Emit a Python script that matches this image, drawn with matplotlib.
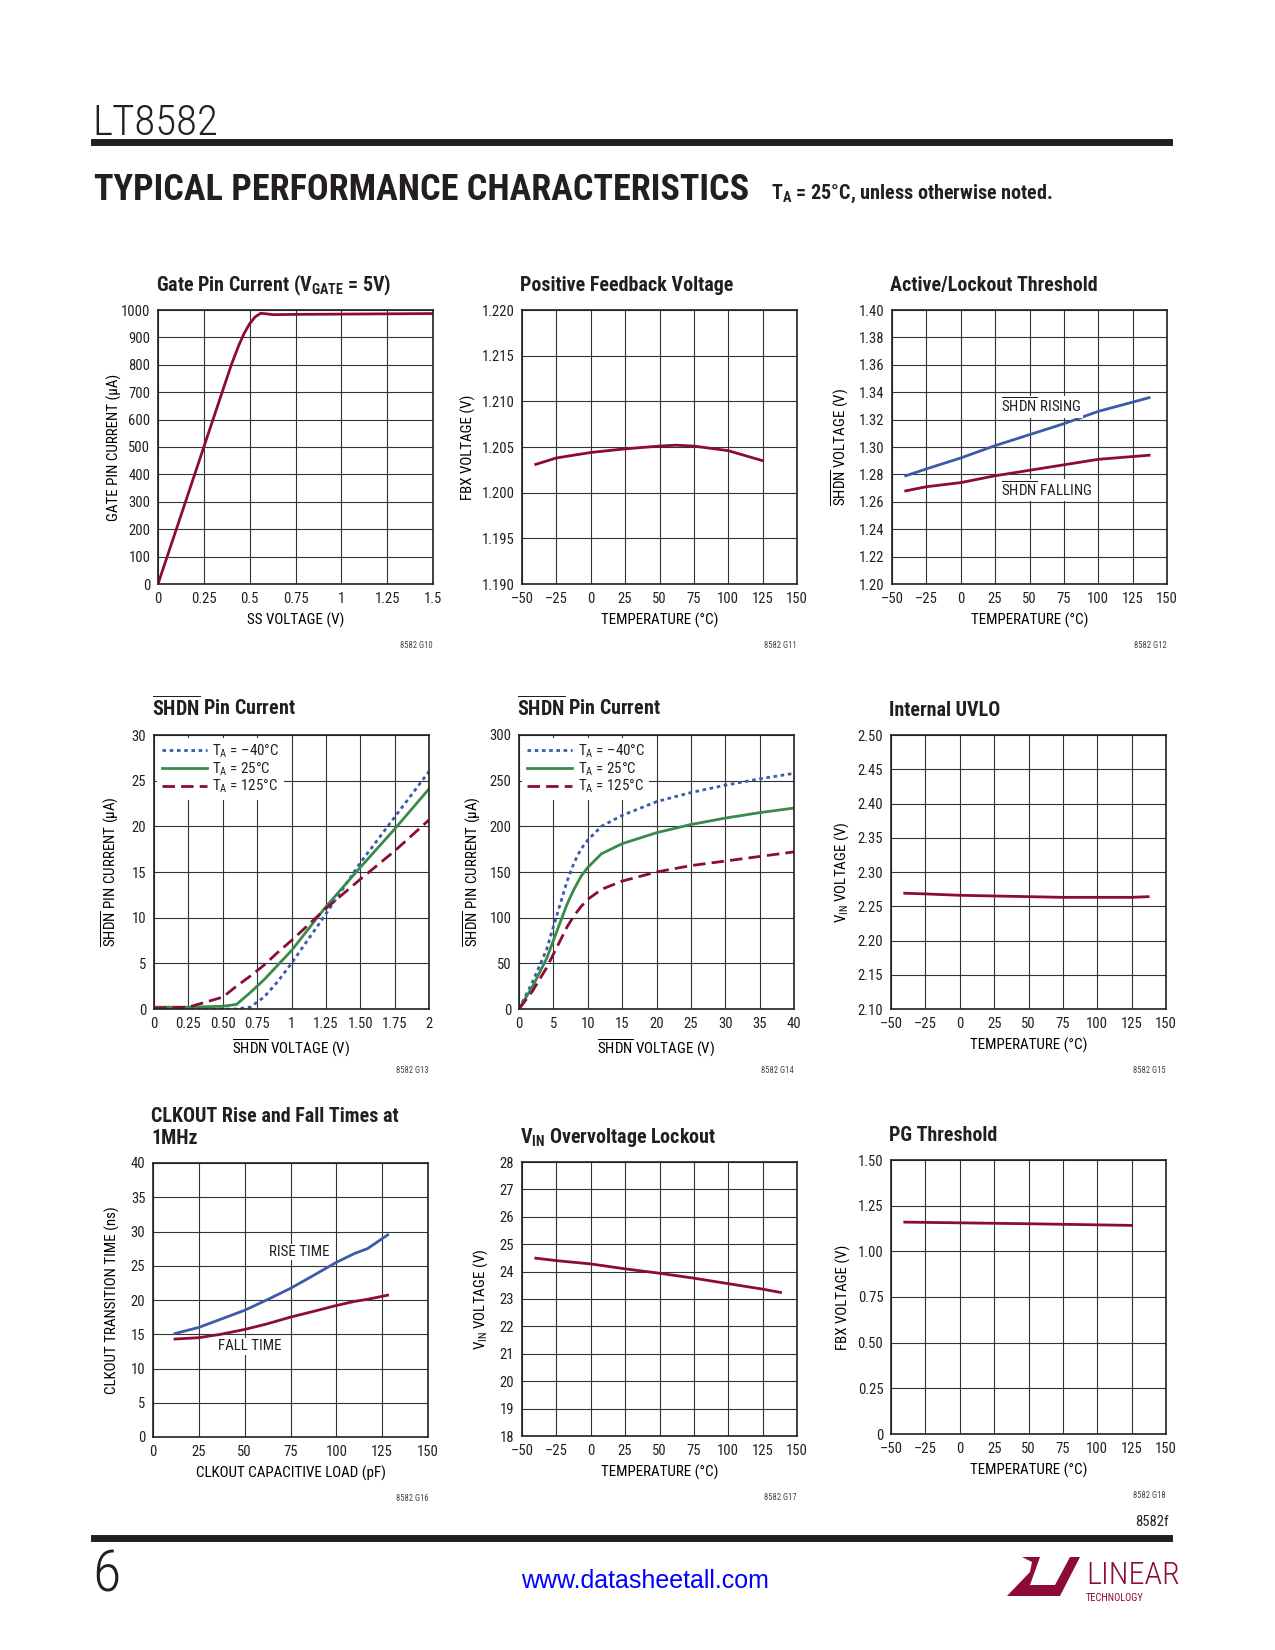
import matplotlib
matplotlib.use('Agg')
import matplotlib.pyplot as plt
from matplotlib.patches import Polygon
import numpy as np

FONTS = ['Roboto Condensed', 'Liberation Sans', 'DejaVu Sans']
plt.rcParams['font.family'] = FONTS
plt.rcParams['mathtext.fontset'] = 'custom'
plt.rcParams['mathtext.rm'] = 'Roboto Condensed'
plt.rcParams['mathtext.bf'] = 'Roboto Condensed:bold'
plt.rcParams['mathtext.it'] = 'Roboto Condensed'
plt.rcParams['text.color'] = '#231f20'

INK = '#231f20'
RED = '#8c0b37'
BLUE = '#3c5aa8'
GREEN = '#3a8a4c'

# ---- data ----
gate_ss = [0, 0.05, 0.1, 0.15, 0.2, 0.25, 0.3, 0.35, 0.4, 0.44, 0.47, 0.5, 0.53, 0.56, 0.59, 0.63, 0.75, 1.0, 1.25, 1.5]
gate_i = [0, 100, 200, 300, 400, 500, 600, 700, 800, 870, 915, 950, 975, 988, 986, 983, 984, 985, 986, 987]

fb_t = [-40, -25, 0, 25, 50, 62, 75, 100, 125]
fb_v = [1.2031, 1.2038, 1.2044, 1.2048, 1.2051, 1.2052, 1.2051, 1.2046, 1.2035]

lock_t = [-40, -25, 0, 25, 50, 75, 100, 137]
lock_rise = [1.279, 1.284, 1.292, 1.301, 1.309, 1.317, 1.326, 1.336]
lock_fall = [1.268, 1.271, 1.274, 1.279, 1.283, 1.287, 1.291, 1.294]

shdn_v_lo = [0, 0.25, 0.5, 0.6, 0.7, 0.8, 0.9, 1.0, 1.25, 1.5, 1.75, 2.0]
shdn_i_lo_m40 = [0, 0, 0, 0, 0.2, 1.3, 3.0, 5.0, 10.4, 16.0, 21.0, 26.0]
shdn_i_lo_25 = [0.2, 0.2, 0.3, 0.5, 1.8, 3.2, 4.8, 6.4, 11.2, 15.5, 19.7, 24.1]
shdn_i_lo_125 = [0.1, 0.2, 1.3, 2.5, 3.6, 4.8, 6.2, 7.5, 11.0, 14.2, 17.3, 20.7]

shdn_v_hi = [0, 2, 4, 5, 7, 8, 9, 10, 12, 15, 20, 25, 30, 35, 40]
shdn_i_hi_m40 = [0, 30, 65, 90, 140, 160, 175, 185, 200, 212, 227, 237, 245, 252, 258]
shdn_i_hi_25 = [0, 25, 55, 75, 115, 131, 145, 155, 170, 181, 193, 202, 209, 215, 220]
shdn_i_hi_125 = [0, 20, 45, 60, 90, 102, 112, 120, 131, 140, 150, 157, 162, 167, 172]

uvlo_t = [-40, -25, 0, 25, 50, 75, 100, 125, 137]
uvlo_v = [2.269, 2.268, 2.266, 2.265, 2.264, 2.263, 2.263, 2.263, 2.264]

clk_c = [12, 25, 37, 50, 62, 75, 87, 100, 110, 117, 128]
clk_rise = [15.1, 16.0, 17.2, 18.5, 20.0, 21.7, 23.5, 25.5, 26.8, 27.5, 29.5]
clk_fall = [14.3, 14.5, 15.0, 15.7, 16.5, 17.5, 18.3, 19.2, 19.8, 20.1, 20.7]

ovlo_t = [-40, -25, 0, 25, 50, 75, 100, 125, 138]
ovlo_v = [24.49, 24.40, 24.28, 24.10, 23.94, 23.76, 23.56, 23.36, 23.24]

pg_t = [-40, 0, 50, 100, 125]
pg_v = [1.160, 1.156, 1.151, 1.145, 1.142]

temp_ticks = [-50, -25, 0, 25, 50, 75, 100, 125, 150]
temp_labels = ['\u201350', '\u201325', '0', '25', '50', '75', '100', '125', '150']
legend_labels = ['T$_\\mathrm{A}$ = \u201340\u00b0C', 'T$_\\mathrm{A}$ = 25\u00b0C', 'T$_\\mathrm{A}$ = 125\u00b0C']

W, H = 1275, 1650
fig = plt.figure(figsize=(W / 100, H / 100), dpi=100)


def px(x, y):
    return x / W, 1 - y / H


def make_ax(left, top, title, gid, xlim, xticks, xlabels, xlabel, ylim, yticks, ylabels, ylabel,
            ylab_x, title2=None):
    ax = fig.add_axes([left / W, 1 - (top + 274) / H, 275 / W, 274 / H])
    ax.set_xlim(xlim)
    ax.set_ylim(ylim)
    ax.set_xticks(xticks)
    ax.set_xticklabels(xlabels)
    ax.set_yticks(yticks)
    ax.set_yticklabels(ylabels)
    ax.tick_params(length=0, pad=5.5, labelsize=10.5, colors=INK)
    ax.grid(True, color='#333333', lw=0.8)
    ax.set_axisbelow(True)
    for s in ax.spines.values():
        s.set_linewidth(1.2)
        s.set_color(INK)
    ax.set_xlabel(xlabel, fontsize=10.8, labelpad=5)
    ax.set_ylabel(ylabel, fontsize=10.8)
    ax.yaxis.set_label_coords(ylab_x, 0.5)
    if title2 is None:
        fig.text(*px(left - 2, top - 19), title, fontsize=14.4, weight='bold', va='baseline')
    else:
        fig.text(*px(left - 2, top - 41), title, fontsize=14.4, weight='bold', va='baseline')
        fig.text(*px(left - 2, top - 19), title2, fontsize=14.4, weight='bold', va='baseline')
    fig.text(*px(left + 275, top + 274 + 64), gid, fontsize=6.2, ha='right', va='baseline', color='#444444')
    return ax


def fmt(vals, f):
    return [f % v for v in vals]


# ---- header ----
fig.text(*px(92, 135), 'LT8582', fontsize=31, weight='light', va='baseline')
fig.add_artist(plt.Line2D([94 / W, 1169 / W], [1 - 142 / H] * 2, color=INK, lw=5))
fig.text(*px(94, 200), 'TYPICAL PERFORMANCE CHARACTERISTICS', fontsize=26, weight='bold', va='baseline')
fig.text(*px(771, 199), 'T$_\\mathbf{A}$ = 25\u00b0C, unless otherwise noted.', fontsize=14.5, weight='bold', va='baseline')

# ---- row 1 ----
ax = make_ax(158, 310, 'Gate Pin Current (V$_\\mathbf{GATE}$ = 5V)', '8582 G10',
             (0, 1.5), [0, 0.25, 0.5, 0.75, 1, 1.25, 1.5], ['0', '0.25', '0.5', '0.75', '1', '1.25', '1.5'],
             'SS VOLTAGE (V)', (0, 1000), list(range(0, 1001, 100)), [str(v) for v in range(0, 1001, 100)],
             'GATE PIN CURRENT (\u00b5A)', -0.132)
ax.plot(gate_ss, gate_i, color=RED, lw=2)

yt = list(np.arange(1.190, 1.2201, 0.005))
ax = make_ax(522, 310, 'Positive Feedback Voltage', '8582 G11',
             (-50, 150), temp_ticks, temp_labels, 'TEMPERATURE (\u00b0C)',
             (1.190, 1.220), yt, fmt(yt, '%.3f'), 'FBX VOLTAGE (V)', -0.167)
ax.plot(fb_t, fb_v, color=RED, lw=2)

yt = list(np.arange(1.20, 1.4001, 0.02))
ax = make_ax(892, 310, 'Active/Lockout Threshold', '8582 G12',
             (-50, 150), temp_ticks, temp_labels, 'TEMPERATURE (\u00b0C)',
             (1.20, 1.40), yt, fmt(yt, '%.2f'), '$\\overline{\\mathrm{SHDN}}$ VOLTAGE (V)', -0.15)
ax.plot(lock_t, lock_rise, color=BLUE, lw=2)
ax.plot(lock_t, lock_fall, color=RED, lw=2)
box = dict(facecolor='white', edgecolor='none', pad=1)
ax.text(29, 1.3295, '$\\overline{\\mathrm{SHDN}}$ RISING', fontsize=10.8, va='center', bbox=box)
ax.text(29.5, 1.2688, '$\\overline{\\mathrm{SHDN}}$ FALLING', fontsize=10.8, va='center', bbox=box)


def shdn_legend(ax):
    leg = ax.legend(legend_labels, loc='upper left', fontsize=10.8, frameon=True, fancybox=False,
                    edgecolor='none', framealpha=1, handlelength=3.0, labelspacing=0.02,
                    borderpad=0.3, borderaxespad=0.2, handletextpad=0.4)
    leg.get_frame().set_linewidth(0)


# ---- row 2 ----
ax = make_ax(154, 735, '$\\overline{\\mathbf{SHDN}}$ Pin Current', '8582 G13',
             (0, 2), [0, 0.25, 0.5, 0.75, 1, 1.25, 1.5, 1.75, 2],
             ['0', '0.25', '0.50', '0.75', '1', '1.25', '1.50', '1.75', '2'],
             '$\\overline{\\mathrm{SHDN}}$ VOLTAGE (V)', (0, 30), list(range(0, 31, 5)),
             [str(v) for v in range(0, 31, 5)], '$\\overline{\\mathrm{SHDN}}$ PIN CURRENT (\u00b5A)', -0.119)
ax.plot(shdn_v_lo, shdn_i_lo_m40, color=BLUE, lw=2, dashes=(1.3, 1.3))
ax.plot(shdn_v_lo, shdn_i_lo_25, color=GREEN, lw=2)
ax.plot(shdn_v_lo, shdn_i_lo_125, color=RED, lw=2, dashes=(4.5, 2.2))
shdn_legend(ax)

ax = make_ax(519, 735, '$\\overline{\\mathbf{SHDN}}$ Pin Current', '8582 G14',
             (0, 40), list(range(0, 41, 5)), [str(v) for v in range(0, 41, 5)],
             '$\\overline{\\mathrm{SHDN}}$ VOLTAGE (V)', (0, 300), list(range(0, 301, 50)),
             [str(v) for v in range(0, 301, 50)], '$\\overline{\\mathrm{SHDN}}$ PIN CURRENT (\u00b5A)', -0.132)
ax.plot(shdn_v_hi, shdn_i_hi_m40, color=BLUE, lw=2, dashes=(1.3, 1.3))
ax.plot(shdn_v_hi, shdn_i_hi_25, color=GREEN, lw=2)
ax.plot(shdn_v_hi, shdn_i_hi_125, color=RED, lw=2, dashes=(4.5, 2.2))
shdn_legend(ax)

yt = list(np.arange(2.10, 2.5001, 0.05))
ax = make_ax(891, 735, 'Internal UVLO', '8582 G15',
             (-50, 150), temp_ticks, temp_labels, 'TEMPERATURE (\u00b0C)',
             (2.10, 2.50), yt, fmt(yt, '%.2f'), 'V$_\\mathrm{IN}$ VOLTAGE (V)', -0.147)
ax.plot(uvlo_t, uvlo_v, color=RED, lw=2)

# ---- row 3 ----
ax = make_ax(153, 1163, 'CLKOUT Rise and Fall Times at', '8582 G16',
             (0, 150), list(range(0, 151, 25)), [str(v) for v in range(0, 151, 25)],
             'CLKOUT CAPACITIVE LOAD (pF)', (0, 40), list(range(0, 41, 5)),
             [str(v) for v in range(0, 41, 5)], 'CLKOUT TRANSITION TIME (ns)', -0.119, title2='1MHz')
ax.plot(clk_c, clk_rise, color=BLUE, lw=2)
ax.plot(clk_c, clk_fall, color=RED, lw=2)
ax.text(80, 27.0, 'RISE TIME', fontsize=10.8, ha='center', va='center', bbox=box)
ax.text(52.5, 13.25, 'FALL TIME', fontsize=10.8, ha='center', va='center', bbox=box)

ax = make_ax(522, 1162, 'V$_\\mathbf{IN}$ Overvoltage Lockout', '8582 G17',
             (-50, 150), temp_ticks, temp_labels, 'TEMPERATURE (\u00b0C)',
             (18, 28), list(range(18, 29)), [str(v) for v in range(18, 29)], 'V$_\\mathrm{IN}$ VOLTAGE (V)', -0.118)
ax.plot(ovlo_t, ovlo_v, color=RED, lw=2)

ax = make_ax(891, 1160, 'PG Threshold', '8582 G18',
             (-50, 150), temp_ticks, temp_labels, 'TEMPERATURE (\u00b0C)',
             (0, 1.5), [0, 0.25, 0.5, 0.75, 1.0, 1.25, 1.5],
             ['0', '0.25', '0.50', '0.75', '1.00', '1.25', '1.50'], 'FBX VOLTAGE (V)', -0.147)
ax.plot(pg_t, pg_v, color=RED, lw=2)

# ---- footer ----
fig.text(*px(1169, 1526), '8582f', fontsize=10.5, ha='right', va='baseline')
fig.add_artist(plt.Line2D([94 / W, 1169 / W], [1 - 1538 / H] * 2, color=INK, lw=5))
fig.text(*px(92, 1591), '6', fontsize=42, weight='light', va='baseline')
fig.text(*px(645, 1588), 'www.datasheetall.com', fontsize=18, ha='center', va='baseline',
         color='#0000ff', family=['Liberation Sans', 'DejaVu Sans'])
logo = [px(1007, 1596), px(1030, 1572), px(1032, 1562), px(1022, 1557), px(1040, 1557),
        px(1030, 1585), px(1055, 1585), px(1070, 1557), px(1080, 1557), px(1060, 1596)]
fig.add_artist(Polygon(logo, closed=True, facecolor=RED, edgecolor='none', transform=fig.transFigure))
fig.text(*px(1086, 1584), 'LINEAR', fontsize=23, weight='light', color=RED, va='baseline')
fig.text(*px(1086, 1601), 'TECHNOLOGY', fontsize=7.5, color=RED, va='baseline')

fig.savefig('out.png', dpi=100)
